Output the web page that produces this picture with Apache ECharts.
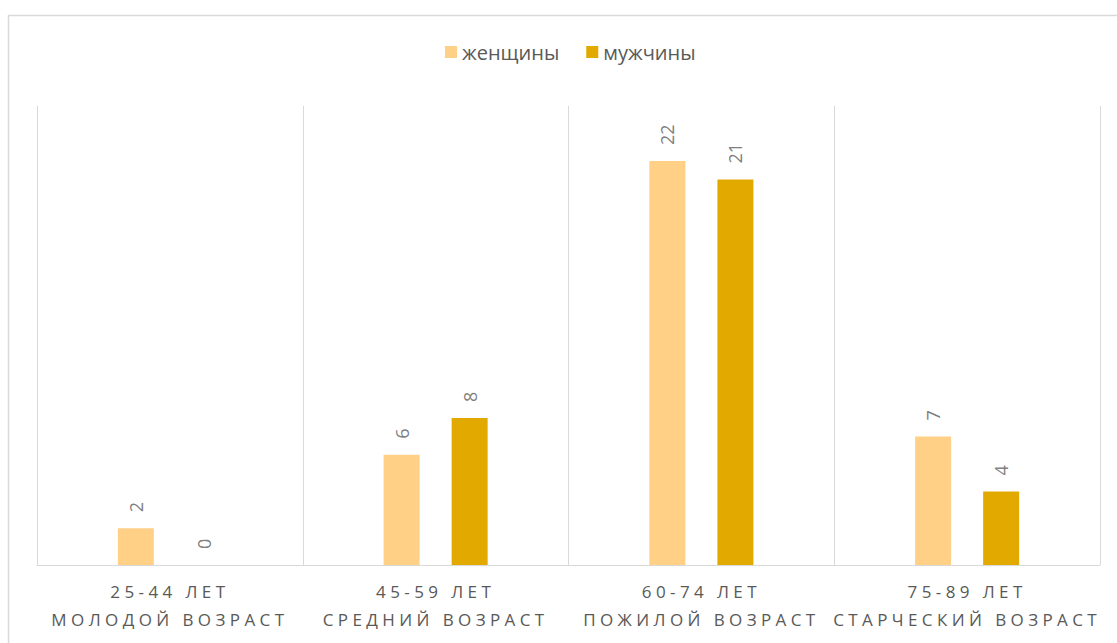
<!DOCTYPE html>
<html>
<head>
<meta charset="utf-8">
<script src="https://cdn.jsdelivr.net/npm/echarts@6/dist/echarts.min.js"></script>
<style>
  html, body { margin: 0; padding: 0; background: #fff; }
  #chart { width: 1117px; height: 643px; }
  /* spaced-out category captions under the axis */
  #chart text[fill="#595958"], #chart text[style*="#595958"] { letter-spacing: 4.4px; }
</style>
</head>
<body>
<div id="chart"></div>
<script>
const categories = [
  '25-44 ЛЕТ\nМОЛОДОЙ ВОЗРАСТ',
  '45-59 ЛЕТ\nСРЕДНИЙ ВОЗРАСТ',
  '60-74 ЛЕТ\nПОЖИЛОЙ ВОЗРАСТ',
  '75-89 ЛЕТ\nСТАРЧЕСКИЙ ВОЗРАСТ'
];
const women = [2, 6, 22, 7];
const men = [0, 8, 21, 4];
const seriesNames = ['женщины', 'мужчины'];

const chart = echarts.init(document.getElementById('chart'), null, { renderer: 'svg' });

const labelStyle = {
  show: true,
  position: 'top',
  rotate: 90,
  align: 'left',
  verticalAlign: 'middle',
  distance: 16,
  color: '#7f7f7f',
  fontSize: 18,
  fontFamily: 'Open Sans'
};

chart.setOption({
  animation: false,
  textStyle: { fontFamily: 'Open Sans' },
  graphic: [{
    type: 'rect',
    shape: { x: 8.5, y: 15.5, width: 1130, height: 650 },
    style: { fill: 'none', stroke: '#d9d9d9', lineWidth: 1.5 },
    silent: true
  }],
  legend: {
    data: seriesNames,
    top: 37,
    left: 440,
    icon: 'rect',
    itemWidth: 12,
    itemHeight: 12,
    itemGap: 27,
    textStyle: { color: '#595959', fontSize: 20, fontFamily: 'Open Sans' }
  },
  grid: { left: 37, right: 17, top: 106, bottom: 78, containLabel: false },
  xAxis: {
    type: 'category',
    data: categories,
    axisLine: { show: true, lineStyle: { color: '#d9d9d9', width: 1 } },
    axisTick: { show: false },
    splitLine: { show: true, lineStyle: { color: '#d9d9d9', width: 1 } },
    axisLabel: {
      interval: 0,
      margin: 12,
      color: '#595958',
      fontSize: 17,
      lineHeight: 28,
      fontFamily: 'Open Sans'
    }
  },
  yAxis: {
    type: 'value',
    min: 0,
    max: 25,
    show: false,
    splitLine: { show: false }
  },
  series: [
    {
      name: seriesNames[0],
      type: 'bar',
      data: women,
      barWidth: 36,
      barGap: '89%',
      itemStyle: { color: '#FFD086' },
      label: labelStyle
    },
    {
      name: seriesNames[1],
      type: 'bar',
      data: men,
      barWidth: 36,
      itemStyle: { color: '#E2A900' },
      label: labelStyle
    }
  ]
});
</script>
</body>
</html>
